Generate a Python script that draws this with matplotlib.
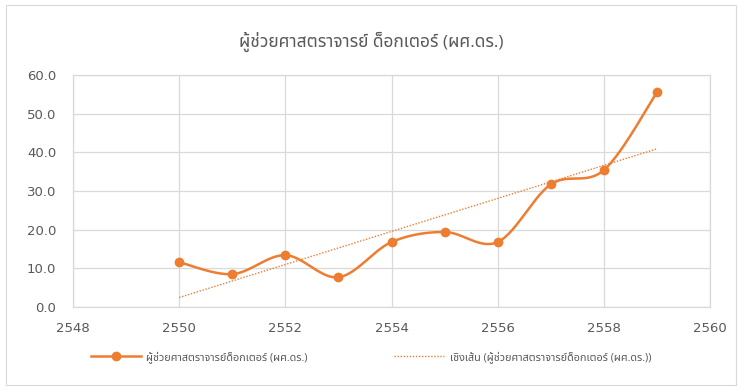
import numpy as np
import matplotlib
matplotlib.use("Agg")
import matplotlib.pyplot as plt
from matplotlib import font_manager
from matplotlib.patches import Rectangle

# Pick a Thai-capable family, falling back through a preference list
installed = {f.name for f in font_manager.fontManager.ttflist}
thai_family = next((n for n in ["Noto Sans Thai", "Noto Sans Thai UI", "Sarabun",
                                "IBM Plex Sans Thai", "Anuphan", "Prompt", "Kanit"]
                    if n in installed), "Anuphan")
plt.rcParams['font.family'] = ['Open Sans', thai_family, 'DejaVu Sans']

title = "ผู้ช่วยศาสตราจารย์ ด็อกเตอร์ (ผศ.ดร.)"
series_name = "ผู้ช่วยศาสตราจารย์ด็อกเตอร์ (ผศ.ดร.)"
trend_name = "เชิงเส้น (ผู้ช่วยศาสตราจารย์ด็อกเตอร์ (ผศ.ดร.))"
years = [2550, 2551, 2552, 2553, 2554, 2555, 2556, 2557, 2558, 2559]
values = [11.6, 8.5, 13.4, 7.7, 16.8, 19.4, 16.8, 31.7, 35.4, 55.5]
x_ticks = [2548, 2550, 2552, 2554, 2556, 2558, 2560]
y_ticks = [0, 10, 20, 30, 40, 50, 60]

ORANGE = "#ED7D31"
GRID = "#D9D9D9"
TEXT = "#595959"


def smooth(x, y, n=30):
    """Bezier smoothing through every point, like a spreadsheet smoothed line."""
    x = np.asarray(x, float)
    y = np.asarray(y, float)
    px = np.concatenate([[x[0]], x, [x[-1]]])
    py = np.concatenate([[y[0]], y, [y[-1]]])
    xs, ys = [], []
    for i in range(1, len(px) - 2):
        p0, p1, p2, p3 = (np.array([px[j], py[j]]) for j in (i - 1, i, i + 1, i + 2))
        c1 = p1 + (p2 - p0) / 6.0
        c2 = p2 - (p3 - p1) / 6.0
        t = np.linspace(0, 1, n)[:, None]
        pts = ((1 - t) ** 3) * p1 + 3 * ((1 - t) ** 2) * t * c1 + 3 * (1 - t) * t ** 2 * c2 + t ** 3 * p2
        xs.append(pts[:, 0])
        ys.append(pts[:, 1])
    return np.concatenate(xs), np.concatenate(ys)


fig = plt.figure(figsize=(7.42, 3.90), dpi=100)
fig.patches.append(Rectangle((0.008, 0.012), 0.984, 0.976, transform=fig.transFigure,
                             fill=False, edgecolor="#D9D9D9", linewidth=0.8))
ax = fig.add_axes([0.0984, 0.2128, 0.8585, 0.5949])

sx, sy = smooth(years, values)
ax.plot(sx, sy, color=ORANGE, linewidth=1.8, zorder=3, solid_capstyle="round")
ax.plot(years, values, linestyle="none", marker="o", markersize=6,
        color=ORANGE, zorder=4)

coef = np.polyfit(years, values, 1)
tx = np.array([years[0], years[-1]], float)
ax.plot(tx, np.polyval(coef, tx), color=ORANGE, linestyle=(0, (1, 1.2)),
        linewidth=1.0, zorder=2)

ax.set_xlim(2548, 2560)
ax.set_ylim(0, 60)
ax.set_xticks(x_ticks)
ax.set_yticks(y_ticks)
ax.set_yticklabels([f"{v:.1f}" for v in y_ticks])
ax.grid(True, color=GRID, linewidth=0.9)
ax.set_axisbelow(True)
for s in ax.spines.values():
    s.set_color(GRID)
    s.set_linewidth(0.9)
ax.tick_params(length=0, colors=TEXT, labelsize=9.5)
ax.tick_params(axis="x", pad=11)
ax.tick_params(axis="y", pad=12)
for lab in ax.get_xticklabels() + ax.get_yticklabels():
    lab.set_family("DejaVu Sans")

fig.text(0.5, 0.892, title, ha="center", va="center", fontsize=12.5, color=TEXT)

h1, = ax.plot([], [], color=ORANGE, linewidth=1.8, marker="o", markersize=6)
h2, = ax.plot([], [], color=ORANGE, linestyle=(0, (1, 1.2)), linewidth=1.0)
fig.legend([h1, h2], [series_name, trend_name], loc="center",
           bbox_to_anchor=(0.50, 0.085), ncol=2, frameon=False,
           fontsize=7.8, labelcolor=TEXT, handlelength=4.6, handletextpad=0.5,
           columnspacing=8.0)

fig.savefig("out.png", dpi=100)
